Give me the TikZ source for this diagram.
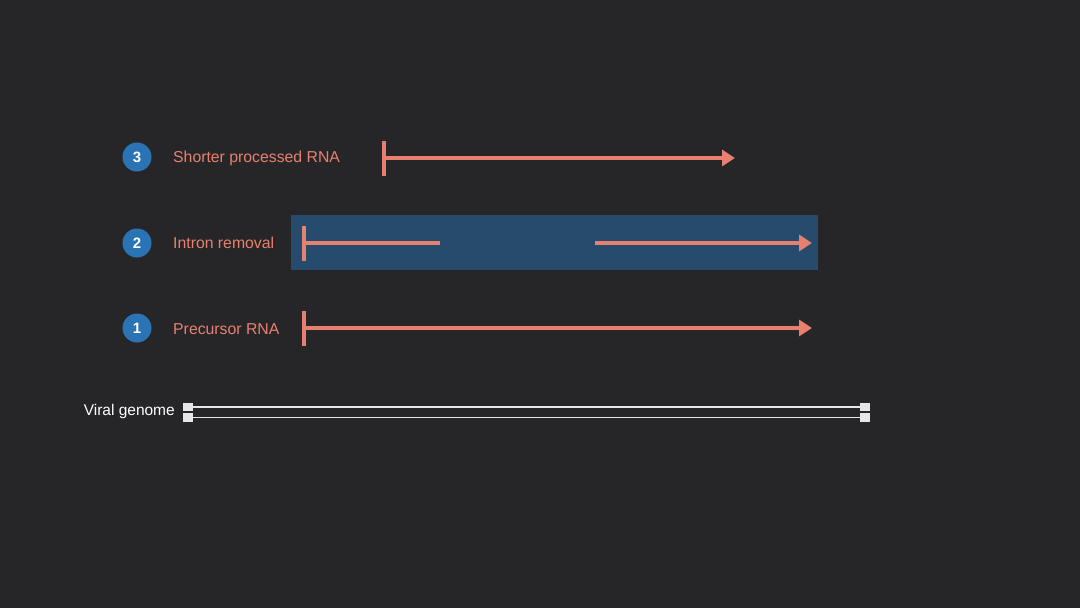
\documentclass[tikz,border=0pt]{standalone}
\usepackage{fontspec}
\setmainfont{Liberation Sans}
\usetikzlibrary{arrows.meta}
\definecolor{bg}{HTML}{262629}
\definecolor{salmon}{HTML}{E8806F}
\definecolor{stepblue}{HTML}{2A74B6}
\definecolor{boxblue}{HTML}{274B6D}
\definecolor{strand}{HTML}{E6E6E6}
\tikzset{
  numdot/.style={circle, fill=stepblue, minimum size=29pt, inner sep=0pt,
    text=white, font=\bfseries\fontsize{15}{15}\selectfont},
  steplabel/.style={anchor=west, text=salmon, inner sep=0pt,
    font=\fontsize{15.8}{16}\selectfont},
  rnaline/.style={draw=salmon, line width=4pt},
  rnaarrow/.style={rnaline, -{Triangle[length=13pt,width=16pt]}},
  startbar/.style={draw=salmon, line width=4pt},
  endcap/.style={rectangle, fill=strand, minimum width=10pt, minimum height=8.5pt, inner sep=0pt},
  genome/.style={draw=strand, line width=1.6pt}
}
\begin{document}
\begin{tikzpicture}[x=1pt, y=-1pt]
\useasboundingbox[fill=bg] (0,0) rectangle (1080,608);

% step 3: shorter processed RNA
\node[numdot] (n3) at (137,157) {3};
\node[steplabel] (l3) at (173,158) {Shorter processed RNA};
\coordinate (s3) at (384,158);
\coordinate (e3) at (735,158);
\draw[startbar] (384,141) -- (384,176);
\draw[rnaarrow] (s3) -- (e3);

% step 2: intron removal
\node[fill=boxblue, minimum width=527pt, minimum height=55pt, inner sep=0pt,
  anchor=north west] (box) at (291,215) {};
\node[numdot] (n2) at (137,243) {2};
\node[steplabel] (l2) at (173,243) {Intron removal};
\coordinate (s2) at (304,243);
\coordinate (i2a) at (440,243);
\coordinate (i2b) at (595,243);
\coordinate (e2) at (812,243);
\draw[startbar] (304,226) -- (304,261);
\draw[rnaline] (s2) -- (i2a);
\draw[rnaarrow] (i2b) -- (e2);

% step 1: precursor RNA
\node[numdot] (n1) at (137,328) {1};
\node[steplabel] (l1) at (173,329) {Precursor RNA};
\coordinate (s1) at (304,328);
\coordinate (e1) at (812,328);
\draw[startbar] (304,311) -- (304,346);
\draw[rnaarrow] (s1) -- (e1);

% viral genome: double strand with end caps
\node[anchor=east, text=white, inner sep=0pt, font=\fontsize{15.5}{16}\selectfont]
  (vg) at (175,411) {Viral genome};
\node[endcap] (a1) at (188,407) {};
\node[endcap] (b1) at (865,407) {};
\node[endcap] (a2) at (188,417.5) {};
\node[endcap] (b2) at (865,417.5) {};
\draw[genome] (a1) -- (b1);
\draw[genome] (a2) -- (b2);
\end{tikzpicture}
\end{document}
